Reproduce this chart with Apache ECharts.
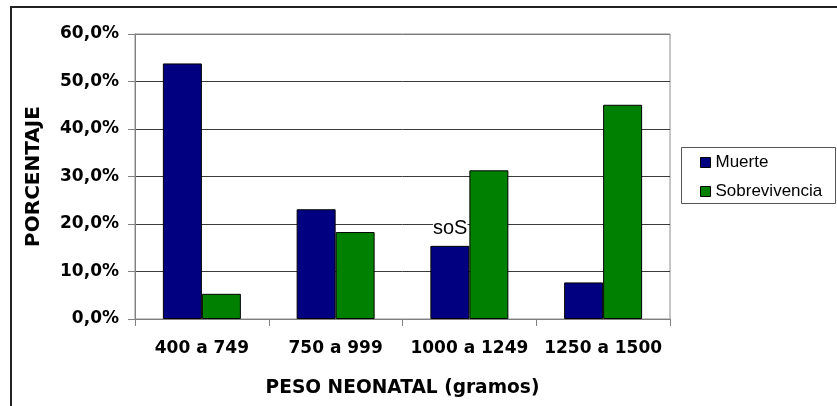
<!DOCTYPE html>
<html>
<head>
<meta charset="utf-8">
<script src="https://cdn.jsdelivr.net/npm/echarts@6/dist/echarts.min.js"></script>
<style>
  html, body { margin: 0; padding: 0; background: #fff; }
  #chart { width: 837px; height: 406px; }
</style>
</head>
<body>
<div id="chart"></div>
<script>
// Birth-weight groups (grams) and percentage of each outcome per group
const categories = ['400 a 749', '750 a 999', '1000 a 1249', '1250 a 1500'];
const muerte = [53.8, 23.1, 15.4, 7.7];
const sobrevivencia = [5.3, 18.3, 31.3, 45.1];
const seriesNames = ['Muerte', 'Sobrevivencia'];
const yTicks = { min: 0, max: 60, interval: 10 };

const boldFont = 'DejaVu Sans';
const plainFont = 'Liberation Sans';

const chart = echarts.init(document.getElementById('chart'), null, { renderer: 'canvas' });

chart.setOption({
  animation: false,
  backgroundColor: '#ffffff',
  grid: {
    left: 135, top: 34, right: 167, bottom: 87,
    show: true, borderColor: '#8c8c8c', borderWidth: 1, backgroundColor: 'transparent'
  },
  legend: {
    orient: 'vertical',
    left: 682, top: 147,
    padding: [7, 10, 3, 18],
    itemWidth: 10, itemHeight: 10, itemGap: 12,
    icon: 'rect',
    itemStyle: { borderColor: '#000', borderWidth: 1 },
    textStyle: { fontFamily: plainFont, fontSize: 17, color: '#000', lineHeight: 17 },
    data: seriesNames
  },
  xAxis: {
    type: 'category',
    data: categories,
    name: 'PESO NEONATAL (gramos)',
    nameLocation: 'middle',
    nameGap: 60,
    nameTextStyle: { fontFamily: boldFont, fontWeight: 'bold', fontSize: 18.6, color: '#000' },
    axisLine: { lineStyle: { color: '#808080', width: 1 } },
    axisTick: { show: true, length: 7, inside: false, lineStyle: { color: '#808080' } },
    axisLabel: { interval: 0, margin: 21, fontFamily: boldFont, fontWeight: 'bold', fontSize: 17, color: '#000' },
    splitLine: { show: false }
  },
  yAxis: {
    type: 'value',
    min: yTicks.min, max: yTicks.max, interval: yTicks.interval,
    name: 'PORCENTAJE',
    nameLocation: 'middle',
    nameRotate: 90,
    nameGap: 91,
    nameTextStyle: { fontFamily: boldFont, fontWeight: 'bold', fontSize: 20, color: '#000' },
    axisLine: { show: true, lineStyle: { color: '#808080', width: 1 } },
    axisTick: { show: true, length: 7, inside: false, lineStyle: { color: '#808080' } },
    axisLabel: {
      margin: 16,
      fontFamily: boldFont, fontWeight: 'bold', fontSize: 17, color: '#000',
      formatter: v => v.toFixed(1).replace('.', ',') + '%'
    },
    splitLine: {
      show: true,
      lineStyle: { color: ['#3a3a3a', '#3a3a3a', '#3a3a3a', '#3a3a3a', '#3a3a3a', '#3a3a3a', '#7a7a7a'], width: 1 }
    }
  },
  series: [
    {
      name: seriesNames[0],
      type: 'bar',
      data: muerte,
      barGap: '0%',
      barCategoryGap: '41.7%',
      itemStyle: { color: '#000080', borderColor: '#000', borderWidth: 1 }
    },
    {
      name: seriesNames[1],
      type: 'bar',
      data: sobrevivencia,
      barGap: '0%',
      barCategoryGap: '41.7%',
      itemStyle: { color: '#008000', borderColor: '#000', borderWidth: 1 }
    }
  ],
  graphic: [
    {
      type: 'rect',
      silent: true,
      z: -1,
      shape: { x: 11, y: 7, width: 900, height: 500 },
      style: { fill: 'transparent', stroke: '#222', lineWidth: 2 }
    },
    {
      type: 'rect',
      silent: true,
      shape: { x: 681.5, y: 147.5, width: 154, height: 56 },
      style: { fill: 'transparent', stroke: '#555', lineWidth: 1 }
    },
    {
      type: 'text',
      silent: true,
      z: 10,
      left: 433, top: 218,
      style: {
        text: 'soS',
        fontFamily: plainFont, fontSize: 20, fill: '#000',
        backgroundColor: '#fff'
      }
    }
  ]
});
</script>
</body>
</html>
